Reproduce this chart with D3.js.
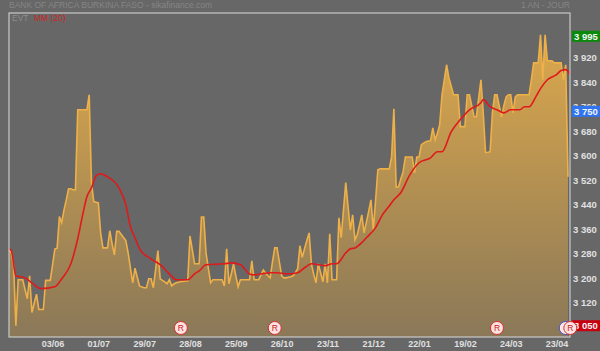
<!DOCTYPE html>
<html>
<head>
<meta charset="utf-8">
<script src="https://d3js.org/d3.v7.min.js"></script>
<style>
html, body { margin: 0; padding: 0; background: #676767; }
svg { display: block; }
text { font-family: "Liberation Sans", Arial, sans-serif; }
</style>
</head>
<body>
<svg id="chart" width="600" height="351"></svg>
<script>
// closing price, one value per session
const prices = [
  3290,3280,3240,3042,3192,3192,3192,3160,3130,3205,
  3085,3115,3145,3095,3095,3095,3190,3190,3190,3240,
  3292,3295,3398,3378,3420,3453,3489,3489,3486,3486,
  3747,3747,3747,3747,3747,3796,3509,3447,3445,3443,
  3345,3296,3296,3296,3352,3310,3273,3350,3350,3340,
  3330,3320,3280,3230,3182,3230,3200,3172,3168,3166,
  3166,3195,3195,3166,3225,3287,3195,3190,3185,3179,
  3192,3172,3178,3182,3184,3186,3186,3188,3188,3335,
  3290,3244,3244,3244,3397,3397,3280,3230,3182,3192,
  3192,3192,3192,3192,3172,3293,3179,3210,3244,3205,
  3169,3192,3192,3192,3192,3192,3254,3192,3192,3192,
  3208,3224,3214,3205,3198,3250,3296,3296,3250,3205,
  3198,3198,3200,3202,3205,3215,3228,3303,3265,3293,
  3320,3345,3244,3210,3182,3244,3215,3185,3244,3182,
  3342,3192,3192,3192,3394,3329,3420,3509,3430,3355,
  3404,3322,3339,3370,3404,3345,3380,3415,3453,3355,
  3450,3551,3554,3554,3554,3554,3554,3593,3750,3495,
  3495,3520,3544,3593,3593,3593,3593,3541,3593,3593,
  3633,3638,3643,3645,3646,3688,3649,3670,3698,3796,
  3845,3894,3851,3825,3796,3796,3796,3692,3692,3692,
  3796,3796,3760,3724,3724,3785,3845,3737,3607,3608,
  3610,3737,3796,3796,3760,3724,3760,3789,3796,3796,
  3737,3789,3796,3796,3796,3796,3796,3796,3845,3900,
  3900,3900,3992,3845,3992,3907,3907,3907,3900,3900,
  3900,3900,3845,3894,3528
];

// moving average, read at the sessions where the curve bends
const maSessions = [0,1,3,7,10,14,20,23,27,30,32,34,36,38,40,43,48,51,53,55,57,62,66,70,73,78,81,83,86,94,97,101,105,107,114,117,121,126,129,132,138,141,143,147,149,151,154,156,160,163,166,168,171,175,179,184,187,189,193,197,201,206,207,210,213,216,219,223,225,227,230,232,235,239,241,243,245];
const maValues = [3293,3287,3205,3198,3182,3163,3169,3195,3244,3326,3398,3463,3492,3531,3538,3528,3492,3437,3365,3329,3293,3260,3241,3211,3192,3192,3211,3221,3241,3244,3247,3241,3211,3208,3215,3215,3211,3215,3231,3244,3238,3244,3244,3280,3293,3296,3313,3329,3362,3404,3433,3453,3476,3535,3574,3590,3610,3610,3675,3715,3747,3770,3780,3757,3747,3737,3747,3747,3757,3757,3790,3816,3845,3862,3875,3878,3862];

const dateLabels = ["03/06","01/07","29/07","28/08","25/09","26/10","23/11","21/12","22/01","19/02","24/03","23/04"];
const dateSessions = [19,39,59,79,99,119,139,159,179,199,219,239];
const yTicks = [3120,3200,3280,3360,3440,3520,3600,3680,3760,3840,3920,4000];

const tagValues = [3995,3750,3050];
const tagColors = ["#0a8a0a","#2f74f0","#c80010"];

const eventSessions = [75,116,213,245];

let svg = d3.select("#chart");

let plotLeft = 9, plotRight = 570, plotTop = 13, plotBottom = 337;

// 80 points are about 24.5 px on the right hand scale
let xScale = d3.scaleLinear().domain([0,244]).range([plotLeft,568]);
let yScale = d3.scaleLinear().domain([3005,4063]).range([plotBottom,plotTop]);

let defs = svg.append("defs");
let grad = defs.append("linearGradient")
    .attr("id","areaFill")
    .attr("gradientUnits","userSpaceOnUse")
    .attr("x1",0).attr("x2",0)
    .attr("y1",35).attr("y2",plotBottom);
grad.append("stop").attr("offset","0%").attr("stop-color","#dca84c");
grad.append("stop").attr("offset","100%").attr("stop-color","#8a7858");

let priceArea = d3.area()
    .x((d,i) => xScale(i))
    .y0(plotBottom)
    .y1(d => yScale(d));

let priceLine = d3.line()
    .x((d,i) => xScale(i))
    .y(d => yScale(d));

svg.append("path")
    .datum(prices)
    .attr("d",priceArea)
    .attr("fill","url(#areaFill)");

svg.append("path")
    .datum(prices)
    .attr("d",priceLine)
    .attr("fill","none")
    .attr("stroke","#eeb048")
    .attr("stroke-width",1.6);

let maLine = d3.line()
    .x(d => xScale(d[0]))
    .y(d => yScale(d[1]))
    .curve(d3.curveMonotoneX);

svg.append("path")
    .datum(maSessions.map((s,i) => [s,maValues[i]]))
    .attr("d",maLine)
    .attr("fill","none")
    .attr("stroke","#e01a1a")
    .attr("stroke-width",1.6);

// frame
svg.append("rect")
    .attr("x",plotLeft).attr("y",plotTop)
    .attr("width",plotRight-plotLeft).attr("height",plotBottom-plotTop)
    .attr("fill","none")
    .attr("stroke","#c8c8c8")
    .attr("stroke-width",1.2);

// right axis
let yAxis = d3.axisRight(yScale)
    .tickValues(yTicks)
    .tickSize(0)
    .tickPadding(3)
    .tickFormat(d => d3.format(",")(d).replace(",", " "));

let yG = svg.append("g")
    .attr("transform","translate("+plotRight+",1)")
    .call(yAxis);
yG.select(".domain").remove();
yG.selectAll("text")
    .attr("fill","#e0e0e0")
    .attr("font-size",9.5)
    .attr("font-weight","bold");

// bottom axis
let xAxis = d3.axisBottom(xScale)
    .tickValues(dateSessions)
    .tickSize(0)
    .tickPadding(4)
    .tickFormat((d,i) => dateLabels[i]);

let xG = svg.append("g")
    .attr("transform","translate(0,"+plotBottom+")")
    .call(xAxis);
xG.select(".domain").remove();
xG.selectAll("text")
    .attr("fill","#e0e0e0")
    .attr("font-size",9)
    .attr("font-weight","bold");

// last / high / low tags
let tags = svg.selectAll(".tag")
    .data(tagValues)
    .enter()
    .append("g")
    .attr("class","tag")
    .attr("transform",d => "translate(572,"+(yScale(d)+2.5)+")");

tags.append("rect")
    .attr("x",0).attr("y",-5.5)
    .attr("width",28).attr("height",11)
    .attr("fill",(d,i) => tagColors[i]);

tags.append("text")
    .attr("x",2).attr("y",3.5)
    .attr("fill","#f4f4f4")
    .attr("font-size",9.5)
    .attr("font-weight","bold")
    .text(d => d3.format(",")(d).replace(",", " "));

// blue marker sits behind the last R
svg.append("circle")
    .attr("cx",xScale(243)).attr("cy",328).attr("r",6.5)
    .attr("fill","#fde6e6")
    .attr("stroke","#4a50c8")
    .attr("stroke-width",1);

let marks = svg.selectAll(".mark")
    .data(eventSessions)
    .enter()
    .append("g")
    .attr("class","mark")
    .attr("transform",d => "translate("+xScale(d)+",328)");

marks.append("circle")
    .attr("r",6.5)
    .attr("fill","#fde2e2")
    .attr("stroke","#d83030")
    .attr("stroke-width",1);

marks.append("text")
    .attr("y",3)
    .attr("text-anchor","middle")
    .attr("fill","#c82020")
    .attr("font-size",8.5)
    .text("R");

// titles and legend
svg.append("text")
    .attr("x",9).attr("y",8)
    .attr("fill","#858585")
    .attr("font-size",8.5)
    .text("BANK OF AFRICA BURKINA FASO - sikafinance.com");

svg.append("text")
    .attr("x",570).attr("y",8)
    .attr("text-anchor","end")
    .attr("fill","#858585")
    .attr("font-size",8.5)
    .text("1 AN - JOUR");

svg.append("text")
    .attr("x",12).attr("y",21)
    .attr("fill","#8c8c8c")
    .attr("font-size",8.5)
    .text("EVT");

svg.append("text")
    .attr("x",34).attr("y",21)
    .attr("fill","#c82828")
    .attr("font-size",8.5)
    .text("MM (20)");
</script>
</body>
</html>
